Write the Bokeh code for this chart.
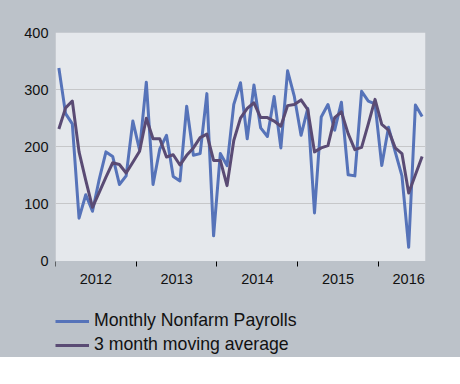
from bokeh.plotting import figure
from bokeh.models import Range1d, FixedTicker, Legend, LegendItem, BoxAnnotation
from bokeh.embed import file_html
from bokeh.resources import INLINE

# Monthly data, Jan 2012 .. Jul 2016 (thousands)
payrolls = [338, 258, 240, 75, 116, 87, 143, 191, 183, 134, 149, 245,
            194, 313, 134, 196, 220, 148, 140, 271, 185, 188, 293, 44,
            188, 167, 274, 312, 214, 308, 233, 218, 288, 198, 333, 288,
            220, 267, 84, 252, 274, 229, 278, 151, 149, 297, 280, 275,
            167, 234, 191, 149, 24, 273, 253]
moving_avg = [231, 268, 280, 191, 141, 94, 120, 147, 172, 169, 154, 173,
              192, 250, 214, 214, 182, 186, 168, 185, 198, 216, 222, 176,
              176, 132, 211, 250, 267, 277, 251, 251, 245, 236, 272, 274,
              282, 265, 191, 198, 202, 251, 261, 223, 195, 199, 240, 283,
              239, 229, 198, 188, 119, 151, 183]
year_labels = ["2012", "2013", "2014", "2015", "2016"]
year_label_pos = [6, 18, 30, 42, 52.5]
year_bounds = [0, 12, 24, 36, 48]
y_ticks = [0, 100, 200, 300, 400]
series_names = ["Monthly Nonfarm Payrolls", "3 month moving average"]

x = [i + 0.5 for i in range(len(payrolls))]

BG = "#bcc2c9"
PLOT_BG = "#e5e8ec"
BLUE = "#5673b9"
PURPLE = "#5a4b74"
FONT = "Liberation Sans"

# frame spans from the top of the plot area down past the legend;
# the light plot area (0..400) is a box annotation
FRAME_H = 325
PLOT_H = 228.5
y_min = -(FRAME_H - PLOT_H) * 400 / PLOT_H

p = figure(frame_width=370, frame_height=FRAME_H, output_backend="svg", toolbar_location=None,
           x_range=Range1d(0, len(payrolls)), y_range=Range1d(y_min, 400),
           min_border_left=55, min_border_right=35, min_border_top=32,
           min_border_bottom=0, styles={"background-color": BG})
p.background_fill_color = None
p.border_fill_color = None
p.outline_line_color = None

area = BoxAnnotation(left=0, right=len(payrolls), bottom=0, top=400,
                     fill_color=PLOT_BG, fill_alpha=1, line_color=None, level="image")
p.add_layout(area)

r1 = p.line(x, payrolls, line_color=BLUE, line_width=3, line_join="round")
r2 = p.line(x, moving_avg, line_color=PURPLE, line_width=3, line_join="round")

# y axis
p.yaxis.ticker = FixedTicker(ticks=y_ticks)
p.yaxis.axis_line_color = None
p.yaxis.major_tick_line_color = None
p.yaxis.major_tick_out = 0
p.yaxis.major_tick_in = 0
p.yaxis.minor_tick_line_color = None
p.yaxis.minor_tick_out = 0
p.yaxis.minor_tick_in = 0
p.yaxis.major_label_standoff = 7
p.yaxis.major_label_text_font = FONT
p.yaxis.major_label_text_font_size = "14.5px"
p.yaxis.major_label_text_color = "#111111"

# x axis at y=0: labels centred in years, small ticks at year boundaries
p.xaxis.fixed_location = 0
p.xaxis.ticker = FixedTicker(ticks=year_label_pos, minor_ticks=year_bounds)
p.xaxis.major_label_overrides = {pos: lab for pos, lab in zip(year_label_pos, year_labels)}
p.xaxis.axis_line_color = None
p.xaxis.major_tick_line_color = None
p.xaxis.major_tick_out = 0
p.xaxis.major_tick_in = 0
p.xaxis.minor_tick_line_color = "#000000"
p.xaxis.minor_tick_out = 5
p.xaxis.minor_tick_in = 0
p.xaxis.major_label_standoff = 8
p.xaxis.major_label_text_font = FONT
p.xaxis.major_label_text_font_size = "14.5px"
p.xaxis.major_label_text_color = "#111111"

p.xgrid.grid_line_color = None
p.ygrid.ticker = FixedTicker(ticks=[100, 200, 300])
p.ygrid.grid_line_color = "#c6c7c9"
p.ygrid.grid_line_width = 1

legend = Legend(items=[LegendItem(label=series_names[0], renderers=[r1]),
                       LegendItem(label=series_names[1], renderers=[r2])],
                location=(0, 2), orientation="vertical")
legend.background_fill_alpha = 0
legend.border_line_color = None
legend.padding = 3
legend.margin = 0
legend.spacing = 3
legend.glyph_width = 34
legend.glyph_height = 20
legend.label_height = 20
legend.label_standoff = 5
legend.label_text_font = FONT
legend.label_text_font_size = "17.7px"
legend.label_text_color = "#111111"
p.add_layout(legend, "center")

open("out.html", "w").write(file_html(p, INLINE))
